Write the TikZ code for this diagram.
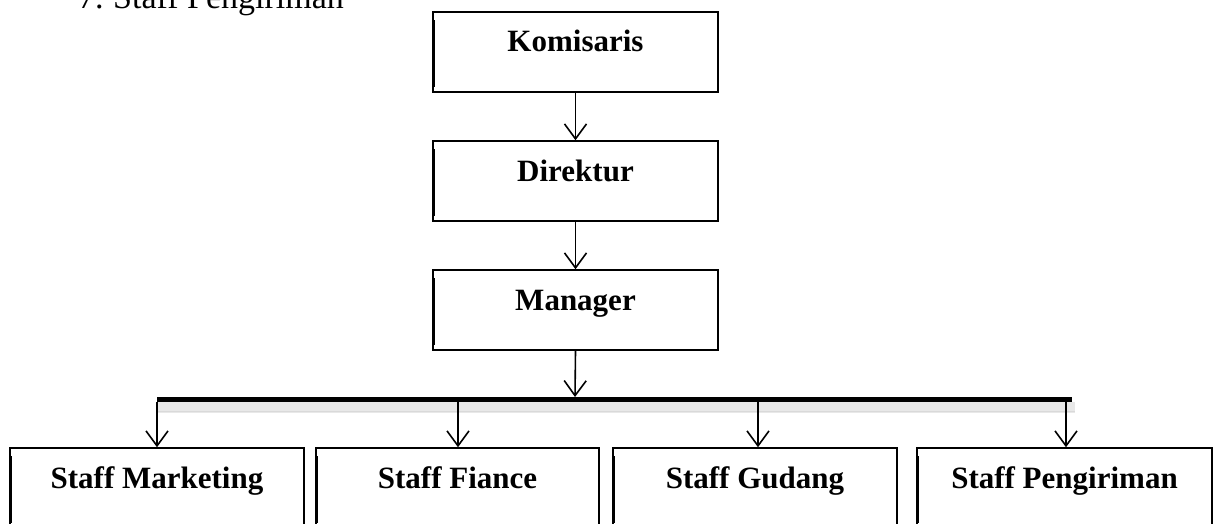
\documentclass[tikz,border=0pt]{standalone}
\usepackage{fontspec}
\setmainfont{Liberation Serif}
\usetikzlibrary{arrows.meta}
\begin{document}
\begin{tikzpicture}[x=1pt,y=-1pt,
  orgbox/.style={draw=black, line width=1.5pt, fill=white, rectangle, inner sep=0pt,
    minimum height=80pt, text height=20pt, text depth=20pt,
    font=\fontsize{31}{36}\selectfont\bfseries},
  arr/.style={draw=black, line width=1.6pt, -{Straight Barb[length=15pt,width=22pt]}},
  busline/.style={draw=black, line width=5pt},
  stub/.style={draw=black, line width=2.6pt}]
\clip (0,0) rectangle (1218,524);
\useasboundingbox (0,0) rectangle (1218,524);

% heading text (cut at the top)
\node[anchor=base west, inner sep=0pt, font=\fontsize{34}{40}\selectfont] (head) at (78,9) {7.\hspace{9.5pt}Staff Pengiriman};

% top chain
\node[orgbox, minimum width=285pt] (kom) at (575.5,52) {Komisaris};
\node[orgbox, minimum width=285pt] (dir) at (575.5,181) {Direktur};
\node[orgbox, minimum width=285pt] (man) at (575.5,310) {Manager};

% bottom row
\node[orgbox, minimum width=294pt] (sm) at (157,488) {Staff Marketing};
\node[orgbox, minimum width=283pt] (sf) at (457.5,488) {Staff Fiance};
\node[orgbox, minimum width=284pt] (sg) at (755,488) {Staff Gudang};
\node[orgbox, minimum width=295pt] (sp) at (1064.5,488) {Staff Pengiriman};

% thicker left edges
\foreach \n in {kom,dir,man,sm,sf,sg,sp}
  \draw[line width=1.3pt] ([xshift=1.8pt,yshift=-9pt]\n.north west) -- ([xshift=1.8pt,yshift=6pt]\n.south west);

% bus
\coordinate (busL) at (157,399.5);
\coordinate (busR) at (1072,399.5);
\coordinate (busTop) at (575,397);
\fill[gray!18] (157,402) rectangle (1075,413);
\draw[gray!30, line width=1pt] (157,411) -- (1075,411);
\draw[busline] (busL) -- (busR);

% drop points
\coordinate (d1) at (157,402);
\coordinate (d2) at (458,402);
\coordinate (d2b) at (458,413);
\coordinate (d3) at (758,402);
\coordinate (d3b) at (758,413);
\coordinate (d4) at (1066,402);

% connectors
\draw[arr] (kom.south) -- (dir.north);
\draw[arr] (dir.south) -- (man.north);
\draw[arr] (man.south) -- (busTop);
\draw[stub] (d2) -- (d2b);
\draw[stub] (d3) -- (d3b);
\draw[arr] (d1) -- (d1 |- sm.north);
\draw[arr] (d2b) -- (d2b |- sf.north);
\draw[arr] (d3b) -- (d3b |- sg.north);
\draw[arr] (d4) -- (d4 |- sp.north);
\end{tikzpicture}
\end{document}
